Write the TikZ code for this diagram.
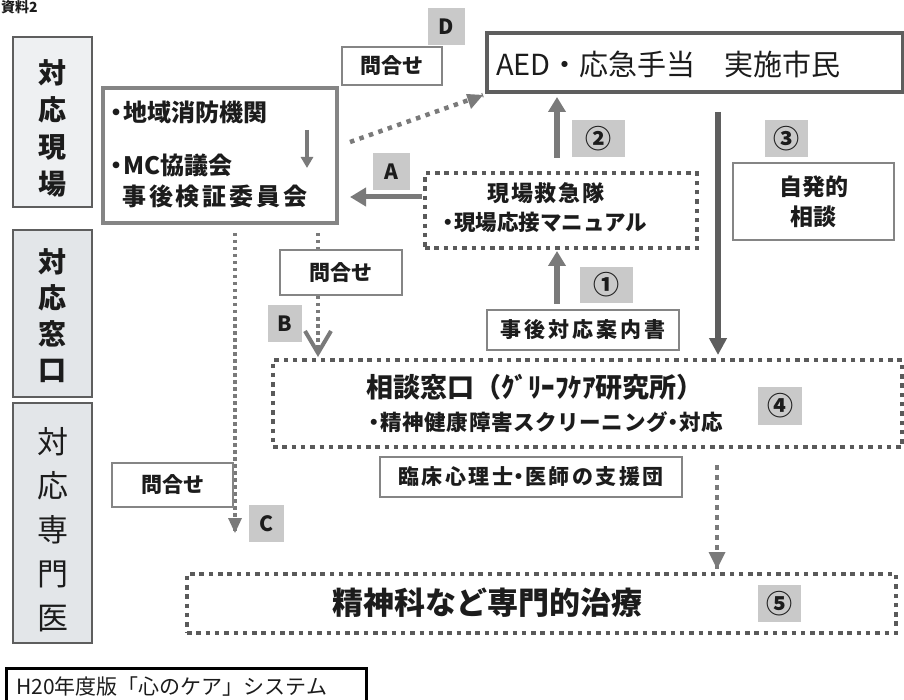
\documentclass[tikz,border=0pt]{standalone}
\usepackage{fontspec}
\setmainfont{Noto Sans CJK JP}
\usetikzlibrary{arrows.meta}
\definecolor{arrgray}{HTML}{7A7A7A}
\definecolor{dkline}{HTML}{5E5E5E}
\definecolor{labgray}{HTML}{C9C9C9}
\definecolor{sideA}{HTML}{EEF0F2}
\definecolor{sideB}{HTML}{E3E6E9}
\definecolor{mcgray}{HTML}{858585}
\definecolor{dotcol}{HTML}{5A5A5A}
\definecolor{txt}{HTML}{1C1C1C}
\newcommand\fsz[2]{\fontsize{#1}{#2}\selectfont}
\newcommand\nd{\makebox[0.55em][c]{・}}
\begin{document}
\begin{tikzpicture}[x=1pt,y=-1pt,
  every node/.style={text=txt},
  sidebox/.style={draw=dkline, line width=1.6pt, inner sep=0pt},
  thinbox/.style={draw=mcgray, line width=1.3pt, fill=white, inner sep=0pt},
  dotbox/.style={draw=dotcol, line width=4.5pt, dash pattern=on 4.5pt off 4.8pt, inner sep=0pt},
  lab/.style={fill=labgray, inner sep=0pt, font=\fsz{21}{21}\bfseries},
  numlab/.style={fill=labgray, inner sep=0pt, font=\fsz{26}{26}\bfseries},
  arr/.style={draw=arrgray, line width=5.5pt, -{Triangle[width=17pt,length=15pt]}},
  dotarr/.style={draw=arrgray, line width=4.5pt, dash pattern=on 4.5pt off 5.5pt},
  fineline/.style={draw=arrgray, line width=3.5pt, dash pattern=on 3.5pt off 3.5pt}
]
\useasboundingbox (0,0) rectangle (904,700);

% header
\node[anchor=base west, inner sep=0pt, font=\fsz{14}{14}\bfseries] (hdr) at (1,13) {資料2};

% left column
\node[sidebox, fill=sideA, minimum width=79, minimum height=170] (s1) at (52.5,122) {};
\node[font=\fsz{28}{37}\bfseries, align=center, inner sep=0pt] (s1t) at (52.5,128) {対\\応\\現\\場};
\node[sidebox, fill=sideB, minimum width=79, minimum height=167] (s2) at (52.5,313.5) {};
\node[font=\fsz{28}{36}\bfseries, align=center, inner sep=0pt] (s2t) at (52.5,316) {対\\応\\窓\\口};
\node[sidebox, fill=sideB, minimum width=79, minimum height=240] (s3) at (52.5,523) {};
\node[font=\fsz{31}{44}, align=center, inner sep=0pt] (s3t) at (52.5,530) {対\\応\\専\\門\\医};

% MC box
\node[draw=mcgray, line width=4pt, minimum width=234, minimum height=135, inner sep=0pt] (mc) at (220,155.5) {};
\node[anchor=west, inner sep=0pt, font=\fsz{24}{24}\bfseries] (mc1) at (110,112) {\nd 地域消防機関};
\node[anchor=west, inner sep=0pt, font=\fsz{24}{24}\bfseries] (mc2) at (110,165) {\nd MC協議会};
\node[anchor=west, inner sep=0pt, font=\fsz{24}{24}\bfseries\addfontfeature{LetterSpace=12}] (mc3) at (122,196) {事後検証委員会};
\coordinate (mca) at (307,130);
\coordinate (mcb) at (307,168);
\draw[draw=arrgray, line width=3.5pt, -{Triangle[width=12pt,length=11pt]}] (mca) -- (mcb);

% D
\node[thinbox, minimum width=100, minimum height=38, font=\fsz{21}{21}\bfseries] (qD) at (392,66) {問合せ};
\node[lab, minimum width=37, minimum height=37] (labD) at (446.5,26.5) {D};

% AED box
\node[draw=dkline, line width=4pt, minimum width=416, minimum height=59, inner sep=0pt] (aed) at (695,62.5) {};
\node[anchor=west, inner sep=0pt, font=\fsz{29}{29}] (aedt) at (496,64) {AED・応急手当　実施市民};

% D dotted arrow
\coordinate (d1) at (350,142);
\coordinate (d2) at (483,95);
\draw[dotarr] (d1) -- (d2);
\fill[arrgray] (d2) -- ++(-17,-1) -- ++(5,15) -- cycle;

% kyu box
\node[dotbox, minimum width=272, minimum height=75] (kyu) at (561,210.5) {};
\node[inner sep=0pt, font=\fsz{22}{22}\bfseries\addfontfeature{LetterSpace=9}] (kyu1) at (546,193) {現場救急隊};
\node[inner sep=0pt, font=\fsz{21.5}{21.5}\bfseries] (kyu2) at (545,222) {\nd 現場応接マニュアル};

% A arrow
\node[lab, minimum width=37, minimum height=37] (labA) at (391.5,171.5) {A};
\coordinate (a1) at (422,197);
\coordinate (a2) at (350,197);
\draw[draw=arrgray, line width=5pt, -{Triangle[width=18pt,length=16pt]}] (a1) -- (a2);

% 2
\coordinate (c2a) at (557,158);
\coordinate (c2b) at (557,97);
\draw[arr] (c2a) -- (c2b);
\node[numlab, minimum width=53, minimum height=37] (lab2) at (598.5,138.5) {②};

% 3
\coordinate (c3a) at (718,112);
\coordinate (c3b) at (718,355);
\draw[draw=dkline, line width=5.5pt, -{Triangle[width=17pt,length=17pt]}] (c3a) -- (c3b);
\node[numlab, minimum width=43, minimum height=37] (lab3) at (786.5,138.5) {③};
\node[draw=mcgray, line width=1.5pt, inner sep=0pt, minimum width=161, minimum height=77,
      font=\fsz{23}{30}\bfseries, align=center] (jihatsu) at (813.5,201.5) {自発的\\相談};

% 1
\node[thinbox, minimum width=192, minimum height=40, font=\fsz{21}{21}\bfseries\addfontfeature{LetterSpace=14}] (anai) at (583,330) {事後対応案内書};
\coordinate (c1a) at (557,304);
\coordinate (c1b) at (557,251);
\draw[arr] (c1a) -- (c1b);
\node[numlab, minimum width=53, minimum height=36] (lab1) at (606.5,285) {①};

% C dotted
\coordinate (cc1) at (235,233);
\coordinate (cc2) at (235,533);
\draw[fineline] (cc1) -- (cc2);
\fill[arrgray] (cc2) -- ++(-7,-15) -- ++(14,0) -- cycle;
\node[thinbox, minimum width=121, minimum height=44, font=\fsz{21}{21}\bfseries] (qC) at (172.5,485) {問合せ};
\node[lab, minimum width=35, minimum height=37] (labC) at (266.5,523.5) {C};

% B dotted
\coordinate (bb1) at (318,233);
\coordinate (bb2) at (318,353);
\draw[fineline] (bb1) -- (bb2);
\draw[draw=arrgray, line width=4pt] (305,331) -- (bb2) -- (331,331);
\node[thinbox, minimum width=122, minimum height=45, font=\fsz{21}{21}\bfseries] (qB) at (341,272.5) {問合せ};
\node[lab, minimum width=34, minimum height=37] (labB) at (285,323.5) {B};

% soudan box
\node[dotbox, minimum width=629, minimum height=87] (soudan) at (587.5,403.5) {};
\node[inner sep=0pt, font=\fsz{27}{27}\bfseries] (sou1) at (535,387) {相談窓口（ｸﾞﾘｰﾌｹｱ研究所）};
\node[inner sep=0pt, font=\fsz{21.5}{21.5}\bfseries\addfontfeature{LetterSpace=3}] (sou2) at (546,422) {\nd 精神健康障害スクリーニング\nd 対応};
\node[numlab, minimum width=44, minimum height=38] (lab4) at (780,406) {④};

% rinsho
\node[thinbox, minimum width=302, minimum height=40, font=\fsz{21}{21}\bfseries\addfontfeature{LetterSpace=12}] (rinsho) at (531,477) {臨床心理士\nd 医師の支援団};

% 5 dotted
\coordinate (f1) at (717,465);
\coordinate (f2) at (717,569);
\draw[dotarr] (f1) -- (f2);
\fill[arrgray] (f2) -- ++(-8.5,-17) -- ++(17,0) -- cycle;

% senmon box
\node[dotbox, minimum width=709, minimum height=59] (senmon) at (541.5,603.5) {};
\node[inner sep=0pt, font=\fsz{31}{31}\bfseries] (sent) at (487,603) {精神科など専門的治療};
\node[numlab, minimum width=43, minimum height=37] (lab5) at (779.5,603.5) {⑤};

% bottom title
\node[draw=black, line width=3pt, minimum width=360, minimum height=40, inner sep=0pt] (h20) at (186,688) {};
\node[anchor=west, inner sep=0pt, font=\fsz{21}{21}] (h20t) at (16,687) {H20年度版「心のケア」システム};
\end{tikzpicture}
\end{document}
